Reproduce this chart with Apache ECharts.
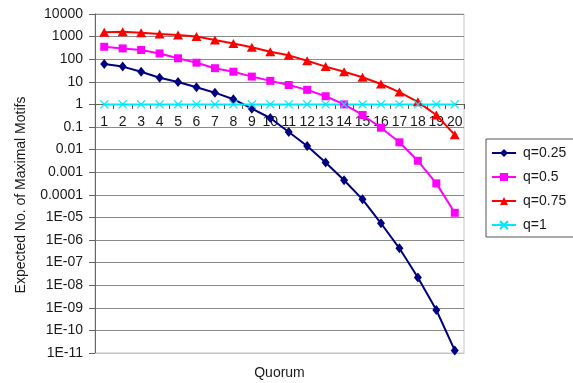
<!DOCTYPE html>
<html>
<head>
<meta charset="utf-8" />
<title>Expected No. of Maximal Motifs</title>
<style>
  html, body { margin: 0; padding: 0; background: #fff; }
  #chart { width: 573px; height: 383px; }
</style>
</head>
<body>
<div id="chart"></div>
<script src="https://cdn.jsdelivr.net/npm/echarts@6/dist/echarts.min.js"></script>
<script>
  // quorum categories
  var quorum = ['1','2','3','4','5','6','7','8','9','10','11','12','13','14','15','16','17','18','19','20'];
  // values (log axis)
  var q025 = [61, 47, 28, 15, 9.8, 5.7, 3.3, 1.7, 0.65, 0.25, 0.06, 0.0145, 0.0027, 0.00044, 6.3e-5, 5.5e-6, 4.3e-7, 2.2e-8, 8e-10, 1.3e-11];
  var q05  = [355, 300, 255, 180, 110, 70, 40, 28, 17, 11, 7.2, 4.4, 2.3, 1.0, 0.34, 0.093, 0.021, 0.0032, 0.00032, 1.6e-5];
  var q075 = [1550, 1650, 1480, 1300, 1170, 1000, 700, 500, 340, 215, 148, 86, 47, 28, 16, 8, 3.5, 1.3, 0.34, 0.045];
  var q1   = [1, 1, 1, 1, 1, 1, 1, 1, 1, 1, 1, 1, 1, 1, 1, 1, 1, 1, 1, 1];
  var seriesNames = ['q=0.25', 'q=0.5', 'q=0.75', 'q=1'];

  var _font = 'Arial, "Liberation Sans", sans-serif';
  var _txt = '#1a1a1a';

  // Excel style log labels: 10000 ... 0.0001, 1E-05 ... 1E-11
  function fmtTick(v) {
    var e = Math.round(Math.log10(v));
    if (e >= 0) return String(Math.pow(10, e));
    if (e >= -4) return Math.pow(10, e).toFixed(-e);
    return '1E-' + (-e < 10 ? '0' : '') + (-e);
  }

  function mkSeries(name, data, color, symbol, size) {
    return {
      name: name,
      type: 'line',
      xAxisIndex: 0,
      data: data,
      symbol: symbol,
      symbolSize: size,
      showAllSymbol: true,
      lineStyle: { color: color, width: 2 },
      itemStyle: { color: color, borderColor: color, borderWidth: symbol.indexOf('path') === 0 ? 1.3 : 0 },
      emphasis: { disabled: true },
      animation: false
    };
  }

  var myChart = echarts.init(document.getElementById('chart'));
  var option = {
    backgroundColor: '#fff',
    textStyle: { fontFamily: _font },
    grid: {
      left: 95, right: 109, top: 14, bottom: 30,
      outerBoundsMode: 'none',
      containLabel: false,
      show: true, borderColor: '#c4c4c4', borderWidth: 1
    },
    legend: {
      orient: 'vertical',
      left: 486, top: 139,
      width: 86,
      padding: [6, 8, 4, 5],
      itemGap: 8,
      itemWidth: 24,
      itemHeight: 10,
      borderColor: '#555',
      borderWidth: 1,
      data: seriesNames,
      textStyle: { fontSize: 14, color: _txt, fontFamily: _font, lineHeight: 16, padding: [0, 0, 0, 2] }
    },
    xAxis: [
      {
        type: 'category',
        data: quorum,
        boundaryGap: true,
        position: 'bottom',
        offset: -249,
        axisLine: { show: true, lineStyle: { color: '#666', width: 1 } },
        axisTick: { show: true, length: 5, lineStyle: { color: '#555' } },
        axisLabel: { color: _txt, fontSize: 14, margin: 11, interval: 0, fontFamily: _font },
        splitLine: { show: false },
        z: 1
      },
      {
        type: 'category',
        data: quorum,
        position: 'bottom',
        axisLine: { show: true, lineStyle: { color: '#c4c4c4' } },
        axisTick: { show: false },
        axisLabel: { show: false },
        name: 'Quorum',
        nameLocation: 'middle',
        nameGap: 13,
        nameTextStyle: { color: _txt, fontSize: 14, fontFamily: _font }
      }
    ],
    yAxis: {
      type: 'log',
      logBase: 10,
      min: 1e-11,
      max: 10000,
      interval: 1,
      splitNumber: 15,
      name: 'Expected No. of Maximal Motifs',
      nameLocation: 'middle',
      nameRotate: 90,
      nameGap: 67,
      nameTextStyle: { color: _txt, fontSize: 14, fontFamily: _font, padding: [0, 23, 0, 0] },
      axisLine: { show: true, lineStyle: { color: '#666', width: 1 } },
      axisTick: { show: true, length: 6, lineStyle: { color: '#666' } },
      axisLabel: { color: _txt, fontSize: 14, margin: 12, formatter: fmtTick, fontFamily: _font },
      splitLine: { show: true, showMinLine: false, lineStyle: { color: '#8a8a8a', width: 1 } }
    },
    series: [
      mkSeries(seriesNames[0], q025, '#000080', 'diamond', [8, 10]),
      mkSeries(seriesNames[1], q05, '#ff00ff', 'rect', 8),
      mkSeries(seriesNames[2], q075, '#ff0000', 'triangle', [10, 9]),
      mkSeries(seriesNames[3], q1, '#00e8ff', 'path://M0,0L10,10M10,0L0,10', 8)
    ]
  };
  myChart.setOption(option);
</script>
</body>
</html>
